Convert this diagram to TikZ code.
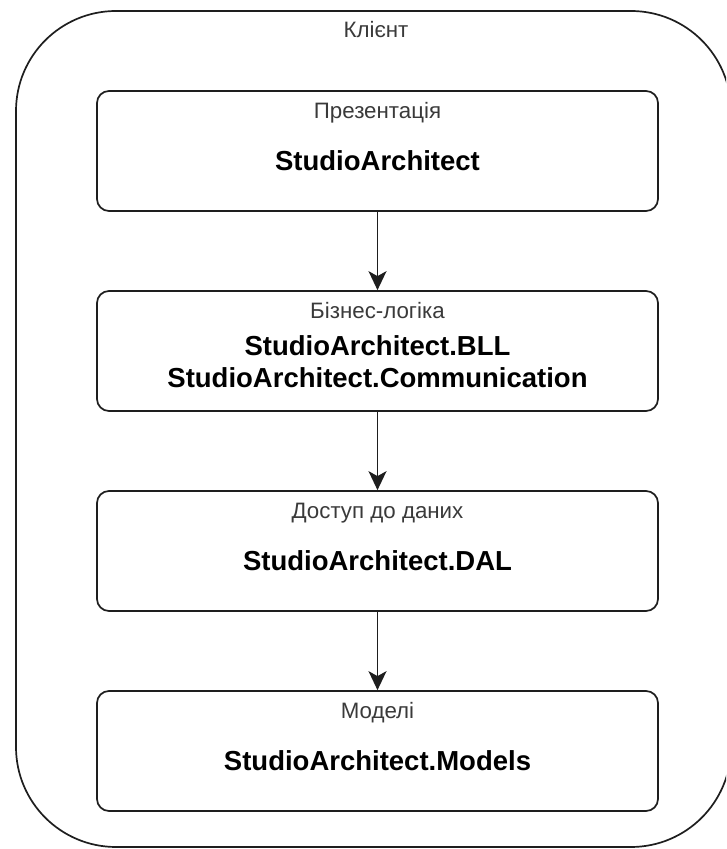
\documentclass[tikz,border=0pt]{standalone}
\usepackage{fontspec}
\setmainfont{Liberation Sans}
\usetikzlibrary{arrows.meta}
\definecolor{linec}{HTML}{1E1E1E}
\definecolor{labc}{HTML}{3A3A3A}
\tikzset{
  layerbox/.style={draw=linec, line width=1.7pt, rounded corners=12pt, minimum width=561pt, minimum height=120pt, inner sep=0pt},
  lighttext/.style={anchor=base, text=labc, inner sep=0pt, font=\fontsize{22.3}{26}\selectfont},
  boldtext/.style={anchor=base, text=black, inner sep=0pt, font=\fontsize{27.5}{32}\selectfont\bfseries},
  flow/.style={draw=linec, line width=1.7pt, -{Stealth[length=19pt,width=18pt,inset=5pt]}}
}
\begin{document}
\begin{tikzpicture}[x=1pt,y=1pt]
\clip (0,0) rectangle (726,849);
\fill[white] (0,0) rectangle (726,849);
% outer container
\draw[draw=linec, line width=1.7pt, rounded corners=100pt] (16,2) rectangle (731,838);
\node[lighttext] (client) at (376,811) {Клієнт};
% layer boxes
\node[layerbox] (b1) at (377.5,698) {};
\node[layerbox] (b2) at (377.5,498) {};
\node[layerbox] (b3) at (377.5,298) {};
\node[layerbox] (b4) at (377.5,98) {};
% texts
\node[lighttext] (l1) at (377.5,730) {Презентація};
\node[boldtext] (t1) at (377.5,678) {StudioArchitect};
\node[lighttext] (l2) at (377.5,530) {Бізнес-логіка};
\node[boldtext] (t2a) at (377.5,493) {StudioArchitect.BLL};
\node[boldtext] (t2b) at (377.5,461) {StudioArchitect.Communication};
\node[lighttext] (l3) at (377.5,330) {Доступ до даних};
\node[boldtext] (t3) at (377.5,278) {StudioArchitect.DAL};
\node[lighttext] (l4) at (377.5,130) {Моделі};
\node[boldtext] (t4) at (377.5,78) {StudioArchitect.Models};
% connectors
\draw[flow] (b1.south) -- (b2.north);
\draw[flow] (b2.south) -- (b3.north);
\draw[flow] (b3.south) -- (b4.north);
\end{tikzpicture}
\end{document}
